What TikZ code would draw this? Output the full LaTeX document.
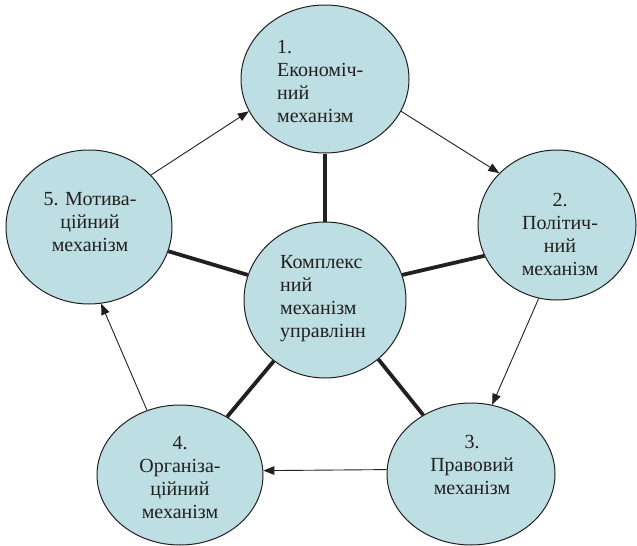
\documentclass[tikz,border=0pt]{standalone}
\usepackage{fontspec}
\setmainfont{Liberation Serif}
\usetikzlibrary{shapes.geometric,arrows.meta}
\definecolor{fillblue}{RGB}{189,223,227}
\definecolor{inkgray}{RGB}{35,31,32}
\pgfdeclarelayer{bg}
\pgfsetlayers{bg,main}
\begin{document}
\begin{tikzpicture}[x=1pt,y=-1pt,
  mech/.style={ellipse, draw=inkgray, line width=1pt, fill=fillblue, inner sep=0pt},
  mechtext/.style={inner sep=0pt, text=inkgray, font=\fontsize{20}{23}\selectfont},
  flow/.style={draw=inkgray, line width=0.9pt, -{Triangle[length=11pt,width=8.5pt]}},
  link/.style={draw=inkgray, line width=3.8pt}]
\useasboundingbox (0,0) rectangle (637,546);

% the five mechanisms around the central one
\node[mech, minimum width=168pt, minimum height=148pt] (e1) at (325,79) {};
\node[mech, minimum width=158pt, minimum height=150pt] (e2) at (557,225) {};
\node[mech, minimum width=168pt, minimum height=142pt] (e3) at (471,474) {};
\node[mech, minimum width=166pt, minimum height=140pt] (e4) at (180,475) {};
\node[mech, minimum width=166pt, minimum height=154pt] (e5) at (89,227) {};
\node[mech, minimum width=162pt, minimum height=156pt] (c) at (325,300) {};

% captions
\node[mechtext, align=left, anchor=west] (e1t) at (277,81) {1.\\Економіч-\\ний\\механізм};
\node[mechtext, align=center] (e2t) at (560,234) {2.\\Політич-\\ний\\механізм};
\node[mechtext, align=center] (e3t) at (472,465) {3.\\Правовий\\механізм};
\node[mechtext, align=center] (e4t) at (180,478) {4.\\Організа-\\ційний\\механізм};
\node[mechtext, align=center] (e5t) at (90,222) {5. Мотива-\\ційний\\механізм};
\node[mechtext, align=left, anchor=west] (ct) at (280,299) {Комплекс\\ний\\механізм\\управлінн};

% thick links from the centre
\begin{pgfonlayer}{bg}
\draw[link] (c) -- (e1);
\draw[link] (c.18) -- (e2.203);
\draw[link] (c.312) -- (e3.129);
\draw[link] (c.230) -- (e4.51);
\draw[link] (c.162) -- (e5.343);
\end{pgfonlayer}

% cycle of arrows
\draw[flow] (e5.40) -- (e1.203);
\draw[flow] (e1.337) -- (e2.138);
\draw[flow] (e2.256) -- (e3.73);
\draw[flow] (e3.177) -- (e4.3);
\draw[flow] (e4.117) -- (e5.279);
\end{tikzpicture}
\end{document}
